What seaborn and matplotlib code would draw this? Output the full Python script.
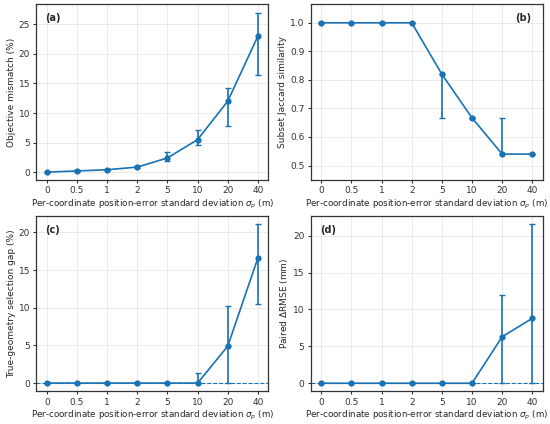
import matplotlib
matplotlib.use("Agg")
import matplotlib.pyplot as plt
import seaborn as sns
import pandas as pd
import numpy as np

# x categories (position-error std, m)
sigma_labels = ["0", "0.5", "1", "2", "5", "10", "20", "40"]

# (a) objective mismatch (%)
mismatch_mean = [0.0, 0.2, 0.4, 0.85, 2.4, 5.5, 12.0, 23.0]
mismatch_lo = [0.0, 0.1, 0.3, 0.65, 1.9, 4.6, 7.8, 16.5]
mismatch_hi = [0.05, 0.3, 0.55, 1.05, 3.4, 7.1, 14.2, 27.0]

# (b) subset Jaccard similarity
jaccard_mean = [1.0, 1.0, 1.0, 1.0, 0.82, 0.667, 0.54, 0.54]
jaccard_lo = [1.0, 1.0, 1.0, 1.0, 0.667, 0.667, 0.54, 0.54]
jaccard_hi = [1.0, 1.0, 1.0, 1.0, 0.82, 0.667, 0.667, 0.54]

# (c) true-geometry selection gap (%)
gap_mean = [0.0, 0.0, 0.0, 0.0, 0.0, 0.0, 4.9, 16.6]
gap_lo = [0.0, 0.0, 0.0, 0.0, 0.0, 0.0, 0.0, 10.5]
gap_hi = [0.0, 0.0, 0.0, 0.0, 0.0, 1.4, 10.2, 21.1]

# (d) paired delta RMSE (mm)
rmse_mean = [0.0, 0.0, 0.0, 0.0, 0.0, 0.0, 6.3, 8.8]
rmse_lo = [0.0, 0.0, 0.0, 0.0, 0.0, 0.0, 0.0, 0.0]
rmse_hi = [0.0, 0.0, 0.0, 0.0, 0.0, 0.0, 12.0, 21.6]

COLOR = "#1872b4"

sns.set_theme(style="ticks")
plt.rcParams["font.family"] = ["DejaVu Sans"]
plt.rcParams["font.size"] = 6.5
plt.rcParams["axes.edgecolor"] = "#333333"
plt.rcParams["axes.linewidth"] = 0.9


def panel(ax, mean, lo, hi, ylabel, tag, ylim, yticks, tag_right=False, zero_line=False):
    x = np.arange(len(sigma_labels))
    df = pd.DataFrame({"x": x, "y": mean})
    mean = np.array(mean)
    yerr = np.vstack([mean - np.array(lo), np.array(hi) - mean])
    if zero_line:
        ax.axhline(0, color=COLOR, lw=0.8, ls="--", zorder=1)
    ax.errorbar(x, mean, yerr=yerr, fmt="none", ecolor=COLOR, elinewidth=1.2,
                capsize=2.5, capthick=1.0, zorder=2)
    sns.lineplot(data=df, x="x", y="y", ax=ax, color=COLOR, marker="o",
                 markersize=4.5, markeredgewidth=0, lw=1.2, zorder=3)
    ax.set_xticks(x)
    ax.set_xticklabels(sigma_labels)
    ax.set_xlim(-0.35, 7.35)
    ax.set_ylim(*ylim)
    ax.set_yticks(yticks)
    ax.grid(True, color="#e6e6e6", lw=0.6)
    ax.set_axisbelow(True)
    ax.tick_params(labelsize=6.5, length=2.5, width=0.8, pad=2, colors="#333333")
    ax.set_xlabel(r"Per-coordinate position-error standard deviation $\sigma_p$ (m)",
                  fontsize=6.3, labelpad=2)
    ax.set_ylabel(ylabel, fontsize=6.5, labelpad=2)
    if tag_right:
        ax.text(0.95, 0.95, tag, transform=ax.transAxes, ha="right", va="top",
                fontsize=7, fontweight="bold")
    else:
        ax.text(0.04, 0.95, tag, transform=ax.transAxes, ha="left", va="top",
                fontsize=7, fontweight="bold")


fig, axes = plt.subplots(2, 2, figsize=(5.5, 4.24), dpi=100)
fig.subplots_adjust(left=0.066, right=0.987, top=0.99, bottom=0.077,
                    wspace=0.182, hspace=0.205)

panel(axes[0, 0], mismatch_mean, mismatch_lo, mismatch_hi,
      "Objective mismatch (%)", "(a)", (-1.3, 28.4), [0, 5, 10, 15, 20, 25])
panel(axes[0, 1], jaccard_mean, jaccard_lo, jaccard_hi,
      "Subset Jaccard similarity", "(b)", (0.45, 1.065),
      [0.5, 0.6, 0.7, 0.8, 0.9, 1.0], tag_right=True)
axes[0, 1].set_yticklabels(["0.5", "0.6", "0.7", "0.8", "0.9", "1.0"])
panel(axes[1, 0], gap_mean, gap_lo, gap_hi,
      "True-geometry selection gap (%)", "(c)", (-1.1, 22.2), [0, 5, 10, 15, 20],
      zero_line=True)
panel(axes[1, 1], rmse_mean, rmse_lo, rmse_hi,
      r"Paired $\Delta$RMSE (mm)", "(d)", (-1.1, 22.7), [0, 5, 10, 15, 20],
      zero_line=True)

fig.savefig("out.png", dpi=100)
